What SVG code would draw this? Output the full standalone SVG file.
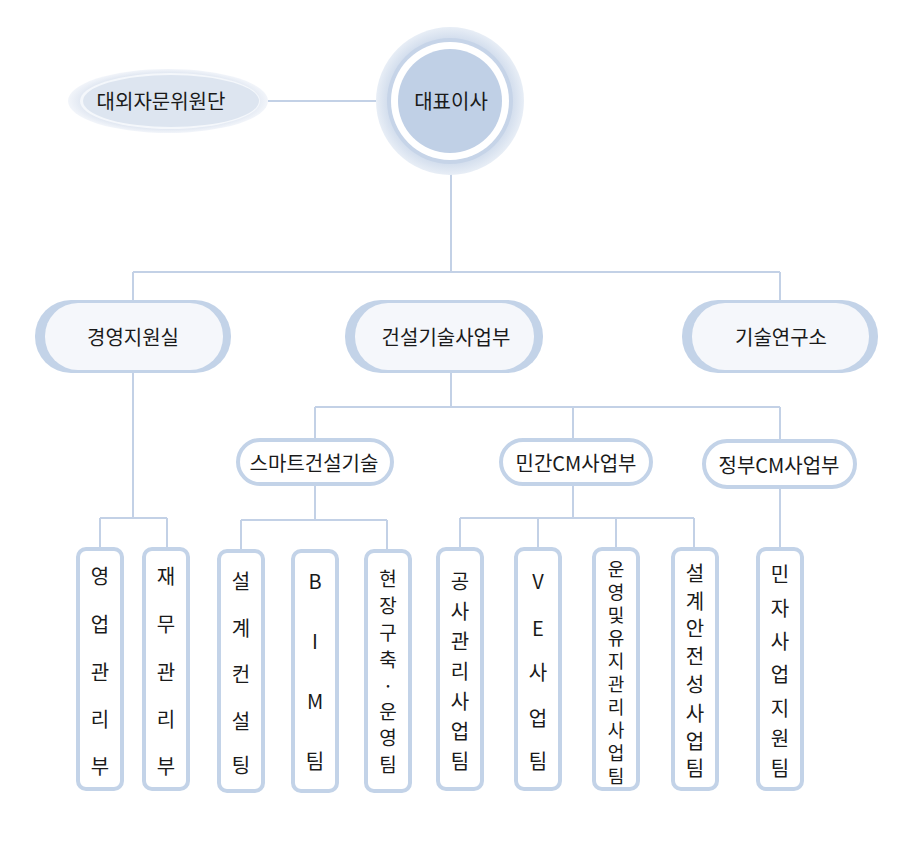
<svg xmlns="http://www.w3.org/2000/svg" width="899" height="858" viewBox="0 0 899 858">
<defs>
<style>
text{font-family:"Noto Sans CJK KR","Noto Sans",sans-serif;fill:#1a1a1a;}
.t20{font-size:20px;text-anchor:middle;dominant-baseline:central;}
.v{font-size:20px;text-anchor:middle;dominant-baseline:central;}
.ln{stroke:#c3d1e6;stroke-width:2;fill:none;}
.pillo{fill:#c3d3e8;}
.pilli{fill:#f5f7fb;}
.p3{fill:#ffffff;stroke:#c3d3e8;stroke-width:4;}
.box{fill:#ffffff;stroke:#c3d3e8;stroke-width:4;}
</style>
<radialGradient id="ring" cx="50%" cy="50%" r="50%">
<stop offset="0.75" stop-color="#c6d4e8"/>
<stop offset="1" stop-color="#e8eef6"/>
</radialGradient>
<radialGradient id="ell" cx="50%" cy="50%" r="50%">
<stop offset="0.85" stop-color="#dfe6f1"/>
<stop offset="1" stop-color="#f2f5fa"/>
</radialGradient>
</defs>
<g id="connectors">
<line class="ln" x1="268" y1="101" x2="376" y2="101"/>
<line class="ln" x1="451" y1="174" x2="451" y2="272"/>
<line class="ln" x1="133" y1="272" x2="780" y2="272"/>
<line class="ln" x1="133" y1="272" x2="133" y2="300"/>
<line class="ln" x1="780" y1="272" x2="780" y2="300"/>
<line class="ln" x1="133" y1="373" x2="133" y2="518"/>
<line class="ln" x1="100" y1="518" x2="167" y2="518"/>
<line class="ln" x1="100" y1="518" x2="100" y2="548"/>
<line class="ln" x1="167" y1="518" x2="167" y2="548"/>
<line class="ln" x1="451" y1="373" x2="451" y2="407"/>
<line class="ln" x1="315" y1="407" x2="780" y2="407"/>
<line class="ln" x1="315" y1="407" x2="315" y2="440"/>
<line class="ln" x1="573" y1="407" x2="573" y2="440"/>
<line class="ln" x1="780" y1="407" x2="780" y2="440"/>
<line class="ln" x1="315" y1="484" x2="315" y2="520"/>
<line class="ln" x1="241" y1="520" x2="387" y2="520"/>
<line class="ln" x1="241" y1="520" x2="241" y2="550"/>
<line class="ln" x1="387" y1="520" x2="387" y2="550"/>
<line class="ln" x1="573" y1="484" x2="573" y2="518"/>
<line class="ln" x1="460" y1="518" x2="694" y2="518"/>
<line class="ln" x1="460" y1="518" x2="460" y2="548"/>
<line class="ln" x1="538" y1="518" x2="538" y2="548"/>
<line class="ln" x1="616" y1="518" x2="616" y2="548"/>
<line class="ln" x1="694" y1="518" x2="694" y2="548"/>
<line class="ln" x1="780" y1="486" x2="780" y2="548"/>
</g>
<g id="ceo">
<circle cx="450" cy="101" r="74" fill="url(#ring)"/>
<circle cx="450" cy="101" r="63" fill="#c6d4e8"/>
<circle cx="450" cy="101" r="59" fill="#ffffff"/>
<circle cx="450" cy="101" r="52" fill="#c0d0e6"/>
<text class="t20" x="451" y="100">대표이사</text>
</g>
<g id="advisory">
<ellipse cx="168" cy="101" rx="100" ry="32" fill="url(#ell)"/>
<ellipse cx="170" cy="101" rx="90" ry="28" fill="#f4f7fb"/>
<ellipse cx="171" cy="101" rx="88" ry="26" fill="#dde5f0"/>
<text class="t20" x="161" y="100">대외자문위원단</text>
</g>
<g id="mgmt">
<rect class="pillo" x="35" y="300" width="196" height="73" rx="36"/>
<rect class="pilli" x="45" y="303" width="178" height="67" rx="33"/>
<text class="t20" x="133" y="336">경영지원실</text>
</g>
<g id="construction">
<rect class="pillo" x="345" y="300" width="198" height="73" rx="36"/>
<rect class="pilli" x="355" y="303" width="179" height="67" rx="33"/>
<text class="t20" x="446" y="336">건설기술사업부</text>
</g>
<g id="research">
<rect class="pillo" x="682" y="300" width="196" height="73" rx="36"/>
<rect class="pilli" x="692" y="303" width="177" height="67" rx="33"/>
<text class="t20" x="781" y="336">기술연구소</text>
</g>
<g id="smart">
<rect class="p3" x="238" y="440" width="154" height="44" rx="22"/>
<text class="t20" x="314" y="462">스마트건설기술</text>
</g>
<g id="privatecm">
<rect class="p3" x="501" y="440" width="150" height="44" rx="22"/>
<text class="t20" x="576" y="462">민간CM사업부</text>
</g>
<g id="govcm">
<rect class="p3" x="704" y="441" width="151" height="46" rx="23"/>
<text class="t20" x="779" y="464">정부CM사업부</text>
</g>
<g id="sales">
<rect class="box" x="78" y="549" width="44" height="240" rx="8"/>
<text class="v"><tspan x="100" y="575">영</tspan><tspan x="100" y="623">업</tspan><tspan x="100" y="671">관</tspan><tspan x="100" y="718">리</tspan><tspan x="100" y="765">부</tspan></text>
</g>
<g id="finance">
<rect class="box" x="144" y="549" width="44" height="240" rx="8"/>
<text class="v"><tspan x="166" y="575">재</tspan><tspan x="166" y="623">무</tspan><tspan x="166" y="671">관</tspan><tspan x="166" y="718">리</tspan><tspan x="166" y="765">부</tspan></text>
</g>
<g id="design">
<rect class="box" x="219" y="551" width="44" height="240" rx="8"/>
<text class="v"><tspan x="241" y="580">설</tspan><tspan x="241" y="627">계</tspan><tspan x="241" y="673">컨</tspan><tspan x="241" y="720">설</tspan><tspan x="241" y="764">팅</tspan></text>
</g>
<g id="bim">
<rect class="box" x="293" y="551" width="44" height="240" rx="8"/>
<text class="v"><tspan x="315" y="580">B</tspan><tspan x="315" y="640">I</tspan><tspan x="315" y="700">M</tspan><tspan x="315" y="760">팀</tspan></text>
</g>
<g id="site">
<rect class="box" x="366" y="551" width="44" height="240" rx="8"/>
<text class="v" style="font-size:19px"><tspan x="388" y="577">현</tspan><tspan x="388" y="604">장</tspan><tspan x="388" y="631">구</tspan><tspan x="388" y="658">축</tspan><tspan x="388" y="684">·</tspan><tspan x="388" y="710">운</tspan><tspan x="388" y="736">영</tspan><tspan x="388" y="763">팀</tspan></text>
</g>
<g id="cpm">
<rect class="box" x="438" y="549" width="44" height="240" rx="8"/>
<text class="v"><tspan x="460" y="580">공</tspan><tspan x="460" y="610">사</tspan><tspan x="460" y="640">관</tspan><tspan x="460" y="670">리</tspan><tspan x="460" y="700">사</tspan><tspan x="460" y="730">업</tspan><tspan x="460" y="760">팀</tspan></text>
</g>
<g id="ve">
<rect class="box" x="516" y="549" width="44" height="240" rx="8"/>
<text class="v"><tspan x="538" y="580">V</tspan><tspan x="538" y="627">E</tspan><tspan x="538" y="671">사</tspan><tspan x="538" y="717">업</tspan><tspan x="538" y="760">팀</tspan></text>
</g>
<g id="om">
<rect class="box" x="594" y="549" width="44" height="240" rx="8"/>
<text class="v" style="font-size:18px"><tspan x="616" y="568">운</tspan><tspan x="616" y="591">영</tspan><tspan x="616" y="614">및</tspan><tspan x="616" y="637">유</tspan><tspan x="616" y="660">지</tspan><tspan x="616" y="683">관</tspan><tspan x="616" y="706">리</tspan><tspan x="616" y="729">사</tspan><tspan x="616" y="752">업</tspan><tspan x="616" y="775">팀</tspan></text>
</g>
<g id="safety">
<rect class="box" x="673" y="549" width="44" height="240" rx="8"/>
<text class="v"><tspan x="695" y="572">설</tspan><tspan x="695" y="600">계</tspan><tspan x="695" y="627">안</tspan><tspan x="695" y="655">전</tspan><tspan x="695" y="683">성</tspan><tspan x="695" y="712">사</tspan><tspan x="695" y="740">업</tspan><tspan x="695" y="767">팀</tspan></text>
</g>
<g id="ppp">
<rect class="box" x="758" y="549" width="44" height="240" rx="8"/>
<text class="v"><tspan x="780" y="573">민</tspan><tspan x="780" y="607">자</tspan><tspan x="780" y="640">사</tspan><tspan x="780" y="673">업</tspan><tspan x="780" y="707">지</tspan><tspan x="780" y="737">원</tspan><tspan x="780" y="767">팀</tspan></text>
</g>
</svg>
